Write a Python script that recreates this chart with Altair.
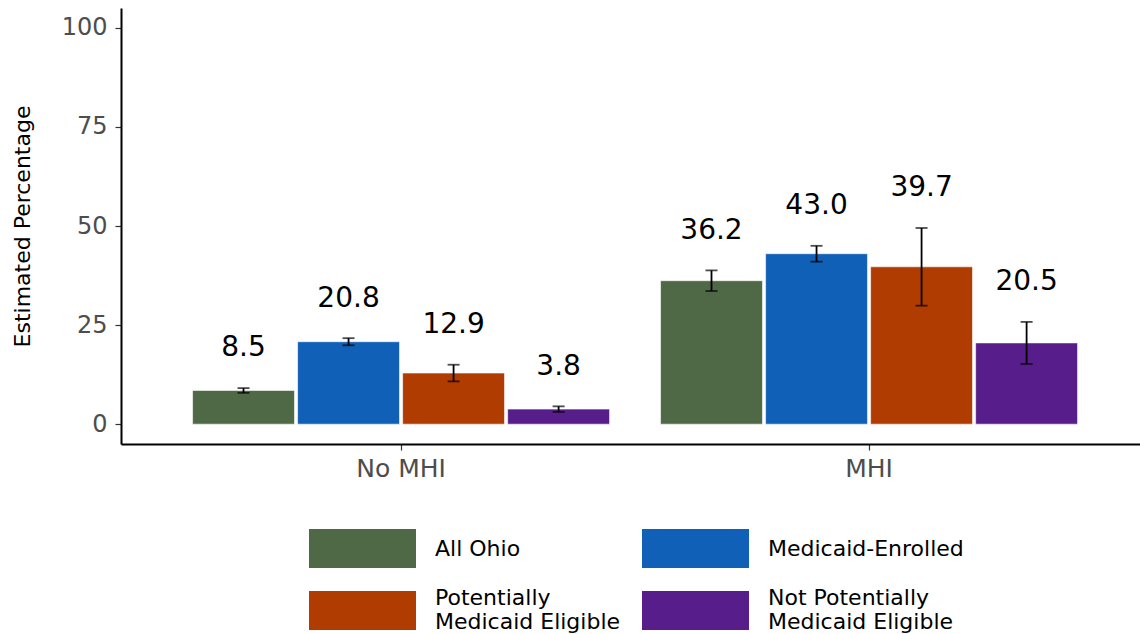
import altair as alt
import pandas as pd

# Survey estimates (percent) with 95% confidence limits
groups = ["No MHI", "MHI"]
categories = [
    "All Ohio",
    "Medicaid-Enrolled",
    "Potentially Medicaid Eligible",
    "Not Potentially Medicaid Eligible",
]
colors = ["#4F6846", "#1160B8", "#B03C02", "#561D8B"]

estimate_no_mhi = [8.5, 20.8, 12.9, 3.8]
lower_no_mhi = [7.9, 19.9, 10.8, 3.1]
upper_no_mhi = [9.1, 21.7, 15.0, 4.5]

estimate_mhi = [36.2, 43.0, 39.7, 20.5]
lower_mhi = [33.6, 41.0, 29.9, 15.2]
upper_mhi = [38.8, 45.0, 49.5, 25.8]

rows = []
for g, est, lo, hi in [
    ("No MHI", estimate_no_mhi, lower_no_mhi, upper_no_mhi),
    ("MHI", estimate_mhi, lower_mhi, upper_mhi),
]:
    for c, e, l, h in zip(categories, est, lo, hi):
        rows.append({"group": g, "cat": c, "value": e, "lo": l, "hi": h})
df = pd.DataFrame(rows)

FONT = "DejaVu Sans"

x_enc = alt.X(
    "group:N",
    sort=groups,
    title=None,
    scale=alt.Scale(paddingInner=0.109, paddingOuter=0.1432, align=0.534),
    axis=alt.Axis(
        labelFontSize=25,
        labelColor="#4d4d4d",
        labelAngle=0,
        labelPadding=6,
        tickSize=6,
        tickColor="#333333",
        tickWidth=1.2,
        domainColor="black",
        domainWidth=2,
        grid=False,
    ),
)
xoff_enc = alt.XOffset("cat:N", sort=categories, scale=alt.Scale(paddingInner=0.03))
y_scale = alt.Scale(domain=[-5, 105], nice=False, zero=False)

# two-line legend labels for the long category names
legend_labels = (
    "datum.label == 'Potentially Medicaid Eligible' ? ['Potentially', 'Medicaid Eligible'] : "
    "datum.label == 'Not Potentially Medicaid Eligible' ? ['Not Potentially', 'Medicaid Eligible'] : "
    "datum.label"
)
legend_baseline = {
    "expr": "indexof(datum.label, 'Potentially') >= 0 ? 'line-bottom' : 'middle'"
}

# wide rectangular key: 39 px tall (unit half-height), 107 px wide
KEY_H = 39
KEY_W = 107
half_w = KEY_W / KEY_H
key_path = f"M{-half_w:.4f},-1H{half_w:.4f}V1H{-half_w:.4f}Z"

base = alt.Chart(df).encode(x=x_enc, xOffset=xoff_enc)

bars = base.mark_bar(stroke="white", strokeWidth=0.8, strokeOpacity=0.7).encode(
    y=alt.Y(
        "value:Q",
        scale=y_scale,
        title="Estimated Percentage",
        axis=alt.Axis(
            values=[0, 25, 50, 75, 100],
            labelFontSize=24,
            labelColor="#4d4d4d",
            labelPadding=8,
            tickSize=6,
            tickColor="#333333",
            tickWidth=1.2,
            domainColor="black",
            domainWidth=2,
            grid=False,
            titleFontSize=22,
            titleFontWeight="normal",
            titleColor="black",
            titlePadding=27,
        ),
    ),
    y2=alt.datum(0),
    color=alt.Color(
        "cat:N",
        sort=categories,
        scale=alt.Scale(domain=categories, range=colors),
        title=None,
        legend=alt.Legend(
            orient="none",
            legendX=222,
            legendY=521,
            columns=2,
            direction="horizontal",
            symbolType=key_path,
            symbolSize=KEY_H * KEY_H,
            symbolStrokeWidth=0,
            symbolOpacity=1,
            labelFontSize=22,
            labelColor="black",
            labelOffset=53,
            labelLimit=400,
            labelExpr=legend_labels,
            labelBaseline=legend_baseline,
            columnPadding=20,
            rowPadding=18,
            padding=0,
        ),
    ),
)

whisker = base.mark_rule(color="black", strokeWidth=1.8).encode(
    y=alt.Y("lo:Q", scale=y_scale), y2="hi:Q"
)
cap_lo = base.mark_tick(color="black", size=12, thickness=1.8).encode(
    y=alt.Y("lo:Q", scale=y_scale)
)
cap_hi = base.mark_tick(color="black", size=12, thickness=1.8).encode(
    y=alt.Y("hi:Q", scale=y_scale)
)

labels = (
    base.transform_calculate(label_y="datum.hi + 10")
    .mark_text(fontSize=28, color="black", baseline="middle", align="center")
    .encode(
        y=alt.Y("label_y:Q", scale=y_scale),
        text=alt.Text("value:Q", format=".1f"),
    )
)

chart = (
    alt.layer(bars, whisker, cap_lo, cap_hi, labels)
    .properties(
        width=1019,
        height=436,
        padding={"left": 121, "top": 8, "right": 0, "bottom": 190},
        autosize=alt.AutoSizeParams(type="none"),
    )
    .configure(font=FONT)
    .configure_view(stroke=None)
)

chart.save("out.html", embed_options={"renderer": "svg", "actions": False})
